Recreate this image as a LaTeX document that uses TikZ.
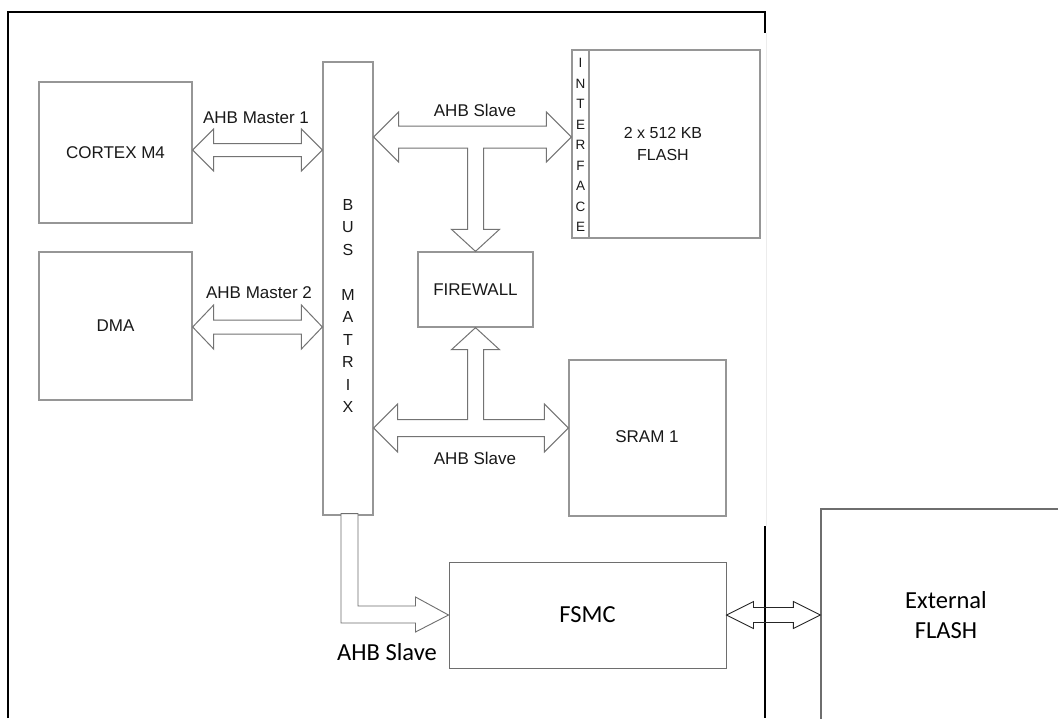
\documentclass[tikz,border=0pt]{standalone}
\usepackage{fontspec}
\setmainfont{Liberation Sans}
\newfontfamily\calfont{Carlito}
\usetikzlibrary{calc}
\definecolor{oldgray}{RGB}{150,150,150}
\definecolor{arrowgray}{RGB}{115,115,115}
\definecolor{newgray}{RGB}{110,110,110}
\newcommand\hdarrow[6]{%
  \draw[#1] (#2) -- ($(#2)+(#4,-#6)$) -- ($(#2)+(#4,-#5)$) -- ($(#3)+(-#4,-#5)$) -- ($(#3)+(-#4,-#6)$) -- (#3)
   -- ($(#3)+(-#4,#6)$) -- ($(#3)+(-#4,#5)$) -- ($(#2)+(#4,#5)$) -- ($(#2)+(#4,#6)$) -- cycle;}
\begin{document}
\begin{tikzpicture}[x=1pt,y=-1pt,
  oldbox/.style={draw=oldgray, line width=1.3pt, rectangle, inner sep=0pt},
  newbox/.style={draw=newgray, line width=1pt, rectangle, inner sep=0pt},
  oldtxt/.style={font=\fontsize{17}{20}\selectfont, text=black!90},
  newtxt/.style={font=\calfont\fontsize{24.5}{30}\selectfont, text=black},
  oldarrow/.style={draw=arrowgray, line width=1pt, fill=white, line join=miter},
  newarrow/.style={draw=newgray, line width=0.9pt, line join=miter},
  blackarrow/.style={draw=black!85, line width=0.9pt, line join=miter},
  frameline/.style={line width=1.5pt, draw=black}]
\clip (0,0) rectangle (1058,718);
\fill[white] (0,0) rectangle (1058,718);

% outer frame
\draw[frameline] (8,718) -- (8,12) -- (765,12) -- (765,33);
\draw[frameline] (765,526) -- (765,718);
\draw[gray!15, line width=1pt] (766,33) -- (766,526);

% upper blocks
\node[oldbox, oldtxt, minimum width=153, minimum height=141] (cortex) at (115.5,152.5) {CORTEX M4};
\node[oldbox, oldtxt, minimum width=153, minimum height=148] (dma) at (115.5,326) {DMA};
\node[oldbox, minimum width=50, minimum height=453] (bus) at (348,288.5) {};
\node[oldtxt, align=center, font=\fontsize{16}{22.5}\selectfont, inner sep=0pt] (bustxt) at (348,306) {B\\U\\S\\[22.5pt]M\\A\\T\\R\\I\\X};
\node[oldbox, minimum width=17, minimum height=188] (iface) at (580.5,144) {};
\node[oldtxt, align=center, font=\fontsize{13.5}{20.5}\selectfont, inner sep=0pt] (ifacetxt) at (580.5,145) {I\\N\\T\\E\\R\\F\\A\\C\\E};
\node[oldbox, minimum width=171, minimum height=188] (flash) at (674.5,144) {};
\node[oldtxt, align=center, font=\fontsize{16}{22}\selectfont] (flashtxt) at (663,144) {2 x 512 KB\\FLASH};
\node[oldbox, oldtxt, minimum width=115, minimum height=75] (fw) at (475.5,289.5) {FIREWALL};
\node[oldbox, minimum width=157, minimum height=156] (sram) at (647.5,438) {};
\node[oldtxt] (sramtxt) at (647,437) {SRAM 1};

% helper rows
\coordinate (y150) at (0,150);
\coordinate (y327) at (0,327);
\coordinate (y137) at (0,137);
\coordinate (y428) at (0,428);
\coordinate (m1a) at (cortex.east |- y150);
\coordinate (m1b) at (bus.west |- y150);
\coordinate (m2a) at (dma.east |- y327);
\coordinate (m2b) at (bus.west |- y327);
\coordinate (sA) at (bus.east |- y137);
\coordinate (sB) at (iface.west |- y137);
\coordinate (tA) at (bus.east |- y428);
\coordinate (tB) at (sram.west |- y428);

% master arrows
\hdarrow{oldarrow}{m1a}{m1b}{21}{6.5}{21}
\hdarrow{oldarrow}{m2a}{m2b}{21}{7}{22}
\node[oldtxt] (lm1) at (256,118) {AHB Master 1};
\node[oldtxt] (lm2) at (259,293) {AHB Master 2};

% upper slave T arrow
\draw[oldarrow] (sA) -- ($(sA)+(25,-25)$) -- ($(sA)+(25,-11)$) -- ($(sB)+(-25,-11)$) -- ($(sB)+(-25,-25)$) -- (sB)
  -- ($(sB)+(-25,25)$) -- ($(sB)+(-25,11)$) -- ($(fw.north |- sA)+(8,11)$) -- ($(fw.north)+(8,-22)$)
  -- ($(fw.north)+(24,-22)$) -- (fw.north) -- ($(fw.north)+(-24,-22)$) -- ($(fw.north)+(-8,-22)$)
  -- ($(fw.north |- sA)+(-8,11)$) -- ($(sA)+(25,11)$) -- ($(sA)+(25,25)$) -- cycle;
\node[oldtxt] (ls1) at (475,110) {AHB Slave};

% lower slave T arrow
\draw[oldarrow] (tA) -- ($(tA)+(24,-24)$) -- ($(tA)+(24,-8.5)$) -- ($(fw.south |- tA)+(-8,-8.5)$) -- ($(fw.south)+(-8,22)$)
  -- ($(fw.south)+(-24,22)$) -- (fw.south) -- ($(fw.south)+(24,22)$) -- ($(fw.south)+(8,22)$)
  -- ($(fw.south |- tA)+(8,-8.5)$) -- ($(tB)+(-24,-8.5)$) -- ($(tB)+(-24,-24)$) -- (tB)
  -- ($(tB)+(-24,24)$) -- ($(tB)+(-24,8.5)$) -- ($(tA)+(24,8.5)$) -- ($(tA)+(24,24)$) -- cycle;
\node[oldtxt] (ls2) at (475,458) {AHB Slave};

% lower blocks
\node[newbox, newtxt, minimum width=277, minimum height=106] (fsmc) at (587.5,615) {FSMC};
\node[newbox, newtxt, align=center, line width=1.3pt, minimum width=250, minimum height=212] (ext) at (946,615) {External\\FLASH};

% L arrow bus -> FSMC
\draw[newarrow, fill=white] ($(bus.south)+(-7,-2)$) -- ($(bus.south)+(10,-2)$) -- ($(bus.south |- fsmc.west)+(10,-9)$)
  -- ($(fsmc.west)+(-33,-9)$) -- ($(fsmc.west)+(-33,-18)$) -- (fsmc.west) -- ($(fsmc.west)+(-33,17)$)
  -- ($(fsmc.west)+(-33,8)$) -- ($(bus.south |- fsmc.west)+(-7,8)$) -- cycle;
\node[newtxt] (ls3) at (387,652) {AHB Slave};

% FSMC <-> External FLASH
\hdarrow{blackarrow}{fsmc.east}{ext.west}{27}{7.5}{13.5}
\end{tikzpicture}
\end{document}
